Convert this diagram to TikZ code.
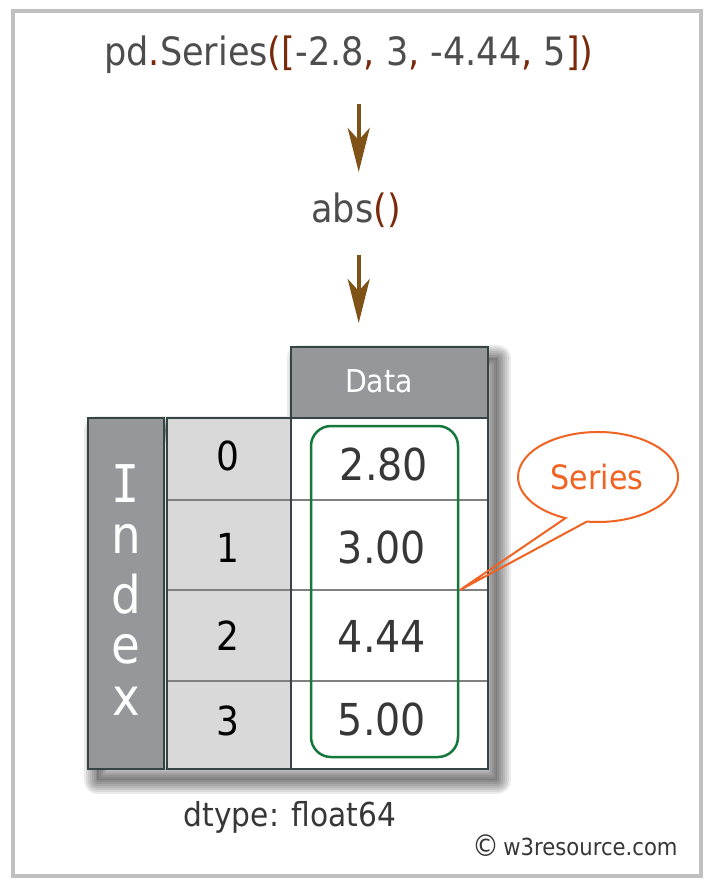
\documentclass[tikz,border=0pt]{standalone}
\usepackage{fontspec}
\setmainfont{DejaVu Sans}[FakeStretch=0.9]
\newfontfamily\serifI{DejaVu Sans Mono}[FakeStretch=0.9]
\usetikzlibrary{arrows.meta}
\definecolor{txt}{RGB}{77,77,77}
\definecolor{punc}{RGB}{122,42,10}
\definecolor{arr}{RGB}{127,82,23}
\definecolor{hdr}{RGB}{150,151,155}
\definecolor{idxbg}{RGB}{217,217,217}
\definecolor{bord}{RGB}{55,68,70}
\definecolor{sep}{RGB}{128,128,128}
\definecolor{grn}{RGB}{20,120,60}
\definecolor{org}{RGB}{240,100,35}
\definecolor{framec}{RGB}{192,192,192}
\definecolor{val}{RGB}{55,55,55}
\tikzset{
  flowarrow/.style={arr, line width=4pt, -{Stealth[length=44pt,width=22pt,inset=12pt]}},
  cellbox/.style={draw=bord, line width=2.5pt},
  sepline/.style={sep, line width=1.5pt},
  valtext/.style={anchor=base, text=val, font=\fontsize{44}{44}\selectfont},
  idxtext/.style={anchor=base, text=black, font=\fontsize{40}{40}\selectfont},
  idxletter/.style={anchor=base, text=white, font=\fontsize{52}{52}\selectfont},
  codetext/.style={anchor=base, text=txt, font=\fontsize{39}{39}\selectfont},
}
\begin{document}
\begin{tikzpicture}[x=1pt,y=-1pt]
\useasboundingbox (0,0) rectangle (716,887);
\fill[white] (0,0) rectangle (716,887);
\draw[framec, line width=4pt] (13,11) rectangle (701,876);

% title and function
\node[codetext] (title) at (349,65) {pd{\color{punc}.}Series{\color{punc}([}-2.8{\color{punc},} 3{\color{punc},} -4.44{\color{punc},} 5{\color{punc}])}};
\coordinate (a1s) at (358.7,104);
\coordinate (a1e) at (358.7,172);
\draw[flowarrow] (a1s) -- (a1e);
\node[codetext] (abs) at (356,222) {abs{\color{punc}()}};
\coordinate (a2s) at (358.7,255);
\coordinate (a2e) at (358.7,323);
\draw[flowarrow] (a2s) -- (a2e);

% table shadow (soft, built from stacked translucent strokes)
\begin{scope}[shift={(9,11)}]
  \fill[black, opacity=0.12]
    (291,347) -- (488,347) -- (488,769) -- (88,769) -- (88,418) -- (291,418) -- cycle;
  \foreach \w in {3,7,11,15,19,23,27} {
    \draw[black, opacity=0.08, line width=\w pt, line join=round]
      (291,347) -- (488,347) -- (488,769) -- (88,769) -- (88,418) -- (291,418) -- cycle;
  }
\end{scope}

% cells
\fill[hdr] (291,347) rectangle (488,418);
\fill[hdr] (88,418) rectangle (164,769);
\fill[idxbg] (167,418) rectangle (291,769);
\fill[white] (291,418) rectangle (488,769);
\draw[sepline] (167,500) -- (488,500);
\draw[sepline] (167,590) -- (488,590);
\draw[sepline] (167,681) -- (488,681);
\draw[cellbox] (291,347) rectangle (488,418);
\draw[cellbox] (88,418) rectangle (164,769);
\draw[cellbox] (167,418) rectangle (291,769);
\draw[cellbox] (291,418) rectangle (488,769);

% header text
\node[anchor=base, text=white, font=\fontsize{31.5}{31.5}\selectfont] (data) at (379,392) {Data};

% index letters
\node[idxletter] (I) at (126,502) {\serifI I};
\node[idxletter] (n) at (126,553) {n};
\node[idxletter] (d) at (126,613) {d};
\node[idxletter] (e) at (126,663) {e};
\node[idxletter] (x) at (126,715) {x};

% index numbers
\node[idxtext] (i0) at (228,470) {0};
\node[idxtext] (i1) at (228,562) {1};
\node[idxtext] (i2) at (228,650) {2};
\node[idxtext] (i3) at (228,735) {3};

% values
\node[valtext] (v0) at (384,480) {2.80};
\node[valtext] (v1) at (382,563) {3.00};
\node[valtext] (v2) at (382,652) {4.44};
\node[valtext] (v3) at (382,735) {5.00};

% series box
\draw[grn, line width=2.5pt, rounded corners=20pt] (311,426) rectangle (458,757);

% callout
\coordinate (tip) at (460,590);
\draw[org, line width=2pt, line join=miter] (tip) -- (565.5,518.1)
  arc[start angle=114, end angle=458, x radius=80, y radius=45] -- (tip);
\node[anchor=base, text=org, font=\fontsize{33.5}{33.5}\selectfont] (series) at (597,489) {Series};

% footer
\node[anchor=base, text=val, font=\fontsize{33}{33}\selectfont] (dtype) at (290,826) {dtype: float64};
\node[anchor=base, text=val, font=\fontsize{23.5}{23.5}\selectfont, inner sep=0pt] (copy) at (575,855) {\raisebox{-1pt}{\fontsize{30}{30}\selectfont ©}\,w3resource.com};
\end{tikzpicture}
\end{document}
